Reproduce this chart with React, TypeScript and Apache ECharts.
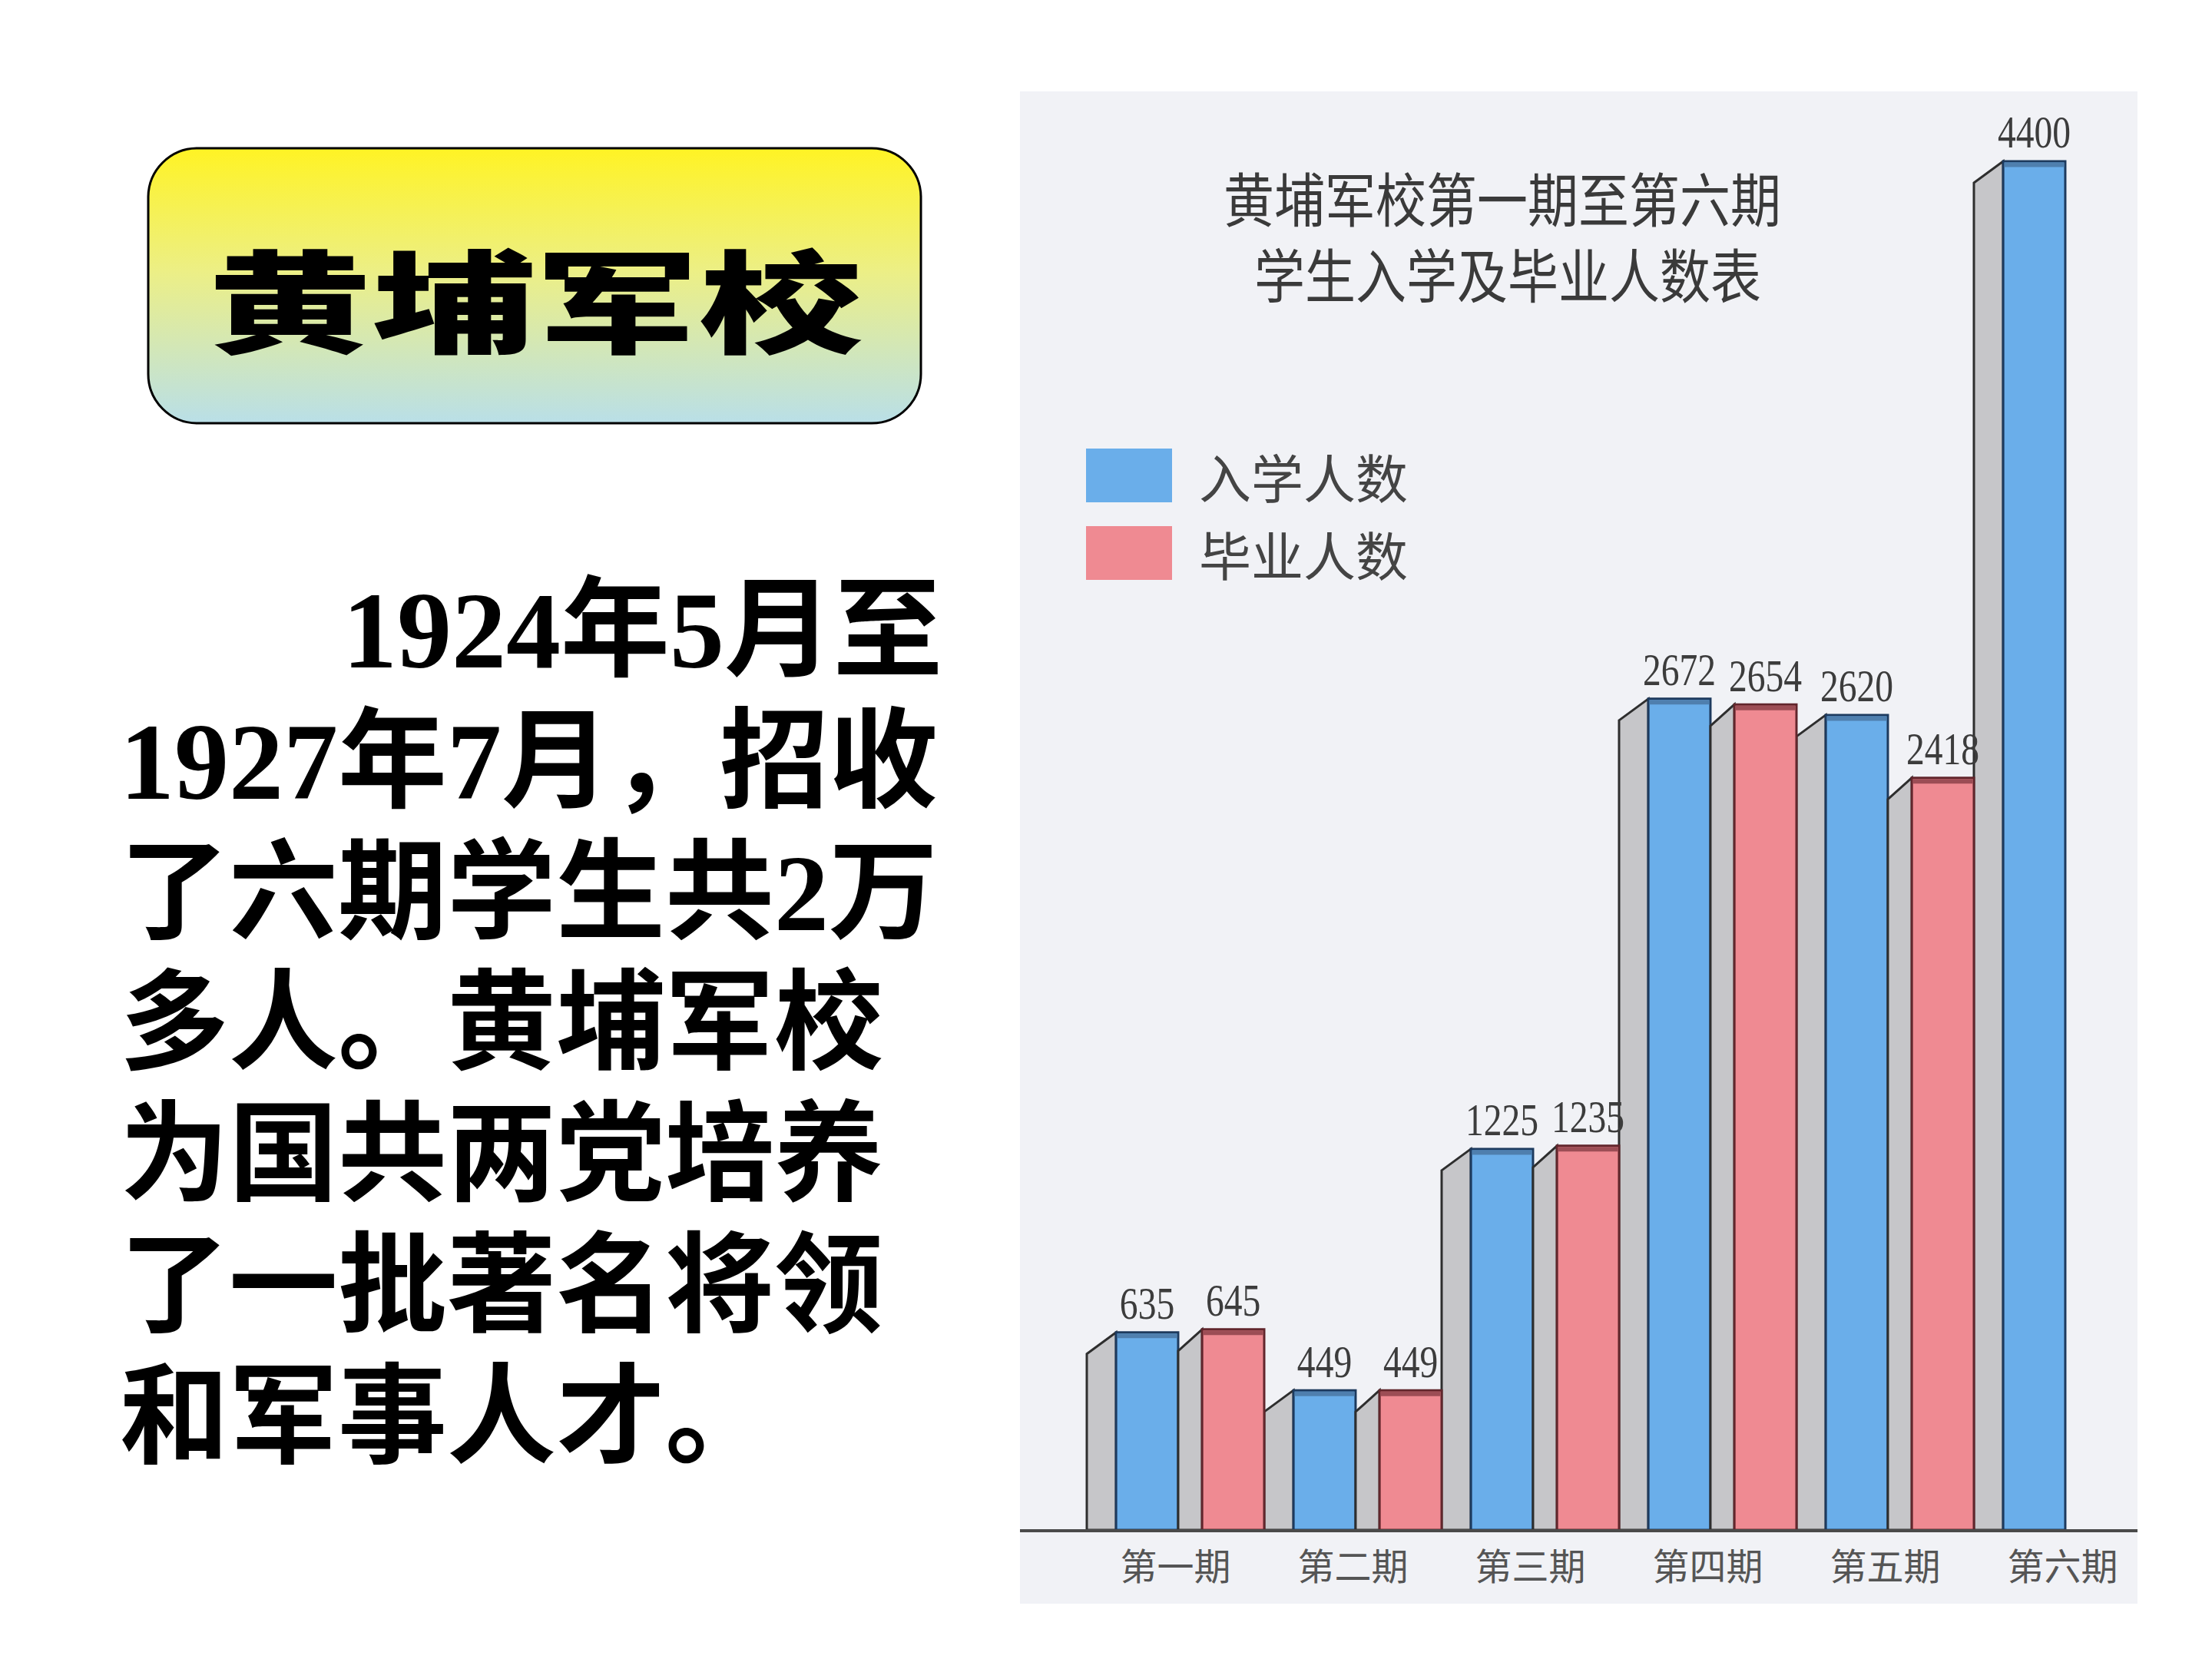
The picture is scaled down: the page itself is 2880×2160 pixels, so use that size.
import React, { useEffect, useRef } from 'react';
import * as echarts from 'echarts';

const categories = ['第一期', '第二期', '第三期', '第四期', '第五期', '第六期'];
const enrolled = [635, 449, 1225, 2672, 2620, 4400];
const graduated: (number | null)[] = [645, 449, 1235, 2654, 2418, null];
const seriesNames = ['入学人数', '毕业人数'];
const chartTitleLines = ['黄埔军校第一期至第六期', '学生入学及毕业人数表'];
const slideTitle = '黄埔军校';
const paragraphLines = [
  '1924年5月至',
  '1927年7月，招收',
  '了六期学生共2万',
  '多人。黄埔军校',
  '为国共两党培养',
  '了一批著名将领',
  '和军事人才。',
];

const BLUE = '#6aaeea';
const BLUE_EDGE = '#1d3a5e';
const BLUE_TOP = '#4f7fae';
const RED = '#ef8a92';
const RED_EDGE = '#62262c';
const RED_TOP = '#9c4d55';
const SIDE = '#c6c6c9';

function makeRenderItem(sideStart: number, frontStart: number, frontEnd: number, fill: string, stroke: string, topFill: string) {
  return (params: any, api: any) => {
    const v = api.value(1);
    if (v == null || isNaN(v)) return null;
    const idx = api.value(0);
    const p = api.coord([idx, v]);
    const b = api.coord([idx, 0]);
    const band = api.size([1, 0])[0];
    const x0 = p[0] - band / 2;
    const sx0 = x0 + sideStart * band;
    const fx0 = x0 + frontStart * band;
    const fx1 = x0 + frontEnd * band;
    const top = p[1];
    const base = b[1];
    const d = 28;
    return {
      type: 'group',
      children: [
        {
          type: 'polygon',
          shape: { points: [[sx0, top + d], [fx0, top], [fx0, base], [sx0, base]] },
          style: { fill: SIDE, stroke: '#2e2e2e', lineWidth: 3 },
        },
        {
          type: 'rect',
          shape: { x: fx0, y: top, width: fx1 - fx0, height: base - top },
          style: { fill, stroke, lineWidth: 3 },
        },
        {
          type: 'rect',
          shape: { x: fx0 + 1.5, y: top + 1.5, width: fx1 - fx0 - 3, height: 6 },
          style: { fill: topFill },
        },
        {
          type: 'text',
          x: (fx0 + fx1) / 2,
          y: top - 8,
          scaleX: 0.85,
          scaleY: 1.05,
          style: {
            text: String(v),
            fontSize: 56,
            fontFamily: 'Liberation Serif',
            fill: '#3c3c3c',
            align: 'center',
            verticalAlign: 'bottom',
          },
        },
      ],
    };
  };
}

export default function App() {
  const ref = useRef<HTMLDivElement>(null);
  useEffect(() => {
    if (!ref.current) return;
    const chart = echarts.init(ref.current, undefined, { renderer: 'svg' });
    const paraGraphics = paragraphLines.map((t, i) => ({
      type: 'text',
      x: i === 0 ? 446 : 156,
      y: 821 + i * 170.8,
      style: {
        text: t,
        fontSize: 142,
        fontWeight: 'bold',
        fontFamily: "'Liberation Serif', 'Noto Sans CJK SC', serif",
        fill: '#000',
        align: 'left',
        verticalAlign: 'middle',
      },
    }));
    const option: any = {
      animation: false,
      backgroundColor: '#ffffff',
      grid: { left: 1415, right: 79, top: 210, bottom: 168 },
      legend: {
        left: 1414,
        top: 584,
        orient: 'vertical',
        icon: 'rect',
        itemWidth: 112,
        itemHeight: 70,
        itemGap: 31,
        padding: 0,
        data: seriesNames,
        textStyle: {
          fontSize: 68,
          color: '#444',
          fontFamily: 'Noto Sans CJK SC',
          padding: [0, 0, 0, 30],
        },
      },
      xAxis: {
        type: 'category',
        data: categories,
        axisLine: { show: false },
        axisTick: { show: false },
        axisLabel: { fontSize: 48, color: '#555', margin: 20, fontFamily: 'Noto Sans CJK SC' },
      },
      yAxis: { type: 'value', min: 0, max: 4400, show: false },
      graphic: [
        {
          type: 'rect',
          z: -10,
          shape: { x: 1328, y: 119, width: 1455, height: 1969 },
          style: { fill: '#f1f2f6' },
        },
        {
          type: 'line',
          z: 50,
          shape: { x1: 1328, y1: 1993, x2: 2783, y2: 1993 },
          style: { stroke: '#4a4a4a', lineWidth: 4 },
        },
        {
          type: 'rect',
          shape: { x: 193, y: 193, width: 1006, height: 358, r: 64 },
          style: {
            fill: new echarts.graphic.LinearGradient(0, 0, 0, 1, [
              { offset: 0, color: '#fff324' },
              { offset: 0.45, color: '#ecef86' },
              { offset: 1, color: '#b9dfe8' },
            ]),
            stroke: '#000',
            lineWidth: 3,
          },
        },
        {
          type: 'text',
          x: 697,
          y: 386,
          scaleX: 1.47,
          style: {
            text: slideTitle,
            fontSize: 145,
            fontWeight: 900,
            fontFamily: 'Noto Sans CJK SC',
            fill: '#000',
            align: 'center',
            verticalAlign: 'middle',
          },
        },
        ...chartTitleLines.map((t, i) => ({
          type: 'text',
          x: i === 0 ? 1956 : 1963,
          y: i === 0 ? 256 : 355,
          scaleY: 1.15,
          style: {
            text: t,
            fontSize: 66,
            fontFamily: 'Noto Sans CJK SC',
            fill: '#3a3a3a',
            align: 'center',
            verticalAlign: 'middle',
          },
        })),
        ...paraGraphics,
      ],
      series: [
        {
          type: 'custom',
          name: seriesNames[0],
          itemStyle: { color: BLUE },
          encode: { x: 0, y: 1 },
          renderItem: makeRenderItem(0, 0.165, 0.515, BLUE, BLUE_EDGE, BLUE_TOP),
          data: enrolled.map((v, i) => [i, v]),
        },
        {
          type: 'custom',
          name: seriesNames[1],
          itemStyle: { color: RED },
          encode: { x: 0, y: 1 },
          renderItem: makeRenderItem(0.515, 0.65, 1.0, RED, RED_EDGE, RED_TOP),
          data: graduated.map((v, i) => [i, v]).filter((d) => d[1] != null),
        },
      ],
    };
    chart.setOption(option);
    return () => chart.dispose();
  }, []);
  return <div ref={ref} style={{ position: 'absolute', left: 0, top: 0, width: 2880, height: 2160 }} />;
}
